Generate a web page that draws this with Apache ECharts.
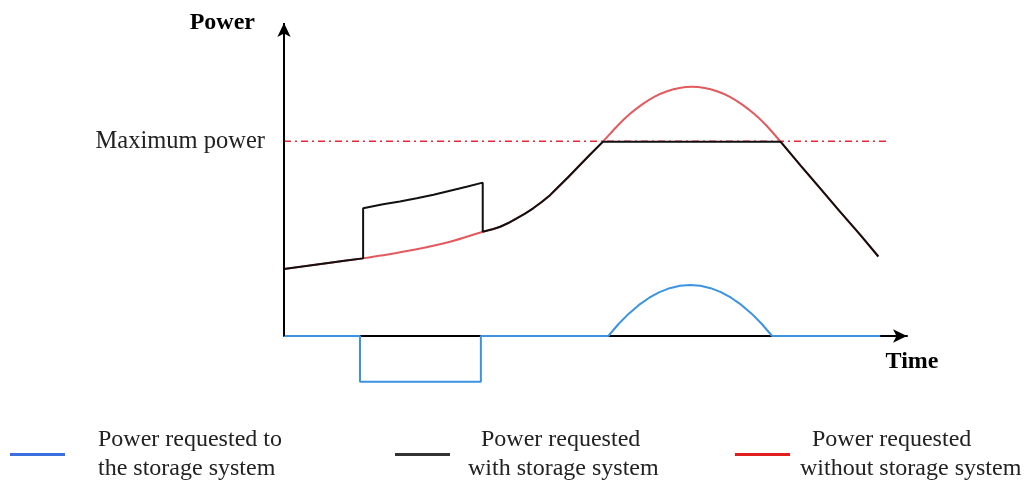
<!DOCTYPE html>
<html>
<head>
<meta charset="utf-8">
<script src="https://cdn.jsdelivr.net/npm/echarts@6/dist/echarts.min.js"></script>
<style>
html,body{margin:0;padding:0;background:#fff;}
#chart{width:1028px;height:481px;}
</style>
</head>
<body>
<div id="chart"></div>
<script>
// Power without storage system (red)
const redData = [
  [0,21.4],[5,22.75],[10,24.1],[12.6,24.8],[15.9,25.8],[21.3,27.7],[26.65,30.1],[31.9,33.3],
  [34.7,34.9],[37.35,37.6],[40,40.8],[42.7,45.0],[45.4,50.3],[47,53.6],[49.1,57.9],[51.2,62.1],[53.5,67.1],[55.5,70.9],[57.5,74.0],
  [59.5,76.5],[61.5,78.2],[63.5,79.25],[65.5,79.6],[67.5,79.25],[69.5,78.2],[71.5,76.5],[73.5,74.0],
  [75.5,70.9],[77.5,67.1],[79.7,62.1],[83,54.3],[86,47.3],[89,40.3],[92.5,32.3],[95.4,25.4]
];
// Power with storage system (black)
const blackData = [
  [0,21.4],[5,22.75],[10,24.1],[12.7,24.8],[12.7,40.8],[15.9,42.1],[18.6,43.0],[21.3,44.0],[24,45.1],[26.65,46.4],
  [29.3,47.7],[31.9,49.0],[31.9,33.3],[33.3,34.0],[34.7,34.9],[36,36.1],[37.35,37.6],[38.7,39.1],[40,40.8],
  [41.35,42.8],[42.7,45.0],[44,47.6],[45.4,50.3],[47,53.6],[49.1,57.9],[51.2,62.1],[79.7,62.1],[83,54.3],
  [86,47.3],[89,40.3],[92.5,32.3],[95.4,25.4]
];
// Power requested to the storage system (blue)
const blueData = [
  [0,0],[12.2,0],[12.2,-14.6],[31.6,-14.6],[31.6,0],[52.05,0],[53.7,3.83],[55.34,7.14],[56.98,9.93],
  [58.63,12.23],[60.27,14.01],[61.91,15.28],[63.56,16.05],[65.2,16.3],[66.84,16.05],[68.49,15.28],
  [70.13,14.01],[71.77,12.23],[73.42,9.93],[75.06,7.14],[76.7,3.83],[78.35,0],[95.7,0]
];
const maxPower = 62.2;
const maxLineX = [0, 97.2];
const seriesNames = ['Power requested to the storage system','Power requested with storage system','Power requested without storage system'];
const legendLabels = [['Power requested to','the storage system'],['Power requested','with storage system'],['Power requested','without storage system']];

const serif = "'Liberation Serif','DejaVu Serif',serif";
const chart = echarts.init(document.getElementById('chart'));
function legendCfg(i, left, color, padA, padB, padLeft){
  return {
    data:[{name:seriesNames[i], itemStyle:{color:color}}],
    left:left, top:428, padding:0, orient:'horizontal', icon:'rect', itemWidth:55, itemHeight:3,
    selectedMode:false,
    formatter: function(){ return '{a|'+legendLabels[i][0]+'}\n{b|'+legendLabels[i][1]+'}'; },
    textStyle:{fontFamily:serif, fontSize:24, color:'#222', padding:[0,0,0,padLeft],
      rich:{a:{fontFamily:serif, fontSize:24, color:'#222', lineHeight:29, padding:[0,0,0,padA]},
            b:{fontFamily:serif, fontSize:24, color:'#222', lineHeight:29, padding:[0,0,0,padB]}}}
  };
}
chart.setOption({
  backgroundColor:'#fff',
  animation:false,
  grid:{left:284, right:121, top:23, bottom:82.4},
  legend:[
    legendCfg(0, 10, '#3b6fe0', 0, 0, 28),
    legendCfg(1, 395, '#333333', 13, 0, 13),
    legendCfg(2, 735, '#e0201f', 12, 0, 5)
  ],
  xAxis:{type:'value', min:0, max:100,
    axisLine:{show:true, onZero:true, symbol:['none','arrow'], symbolSize:[10,14], lineStyle:{color:'#000', width:2}},
    axisTick:{show:false}, axisLabel:{show:false}, splitLine:{show:false},
    name:'Time', nameLocation:'end', nameGap:5,
    nameTextStyle:{fontFamily:serif, fontSize:24, fontWeight:'bold', color:'#000', align:'center', verticalAlign:'top', padding:[14,0,0,0]}
  },
  yAxis:{type:'value', min:-20, max:100,
    axisLine:{show:false}, axisTick:{show:false}, axisLabel:{show:false}, splitLine:{show:false},
    name:'Power', nameLocation:'end', nameGap:0,
    nameTextStyle:{fontFamily:serif, fontSize:24, fontWeight:'bold', color:'#000', align:'right', verticalAlign:'middle', padding:[0,29,0,0]}
  },
  series:[
    {name:'Maximum power', type:'line', data:[
        {value:[maxLineX[0],maxPower], label:{show:true, position:'left', distance:19, formatter:'Maximum power', fontFamily:serif, fontSize:24.5, color:'#222'}},
        [maxLineX[1],maxPower]],
      symbol:'circle', symbolSize:0, lineStyle:{color:'#e8283a', width:1.6, type:[7,4,2,4]}, z:1, silent:true},
    {name:seriesNames[2], type:'line', data:redData, showSymbol:false, smooth:0.3, lineStyle:{color:'#e35a5e', width:2}, itemStyle:{color:'#e0201f'}, z:2},
    {name:seriesNames[1], type:'line', data:blackData, showSymbol:false, lineStyle:{color:'#111', width:2}, itemStyle:{color:'#333'}, z:3},
    {name:seriesNames[0], type:'line', data:blueData, showSymbol:false, lineStyle:{color:'#3c93e0', width:2}, itemStyle:{color:'#3b6fe0'}, z:4,
      markLine:{silent:true, symbol:['none','arrow'], symbolSize:[10,14], label:{show:false},
        lineStyle:{color:'#000', width:2, type:'solid'},
        data:[[{coord:[0,0]},{coord:[0,100]}]]}}
  ]
});
</script>
</body>
</html>
